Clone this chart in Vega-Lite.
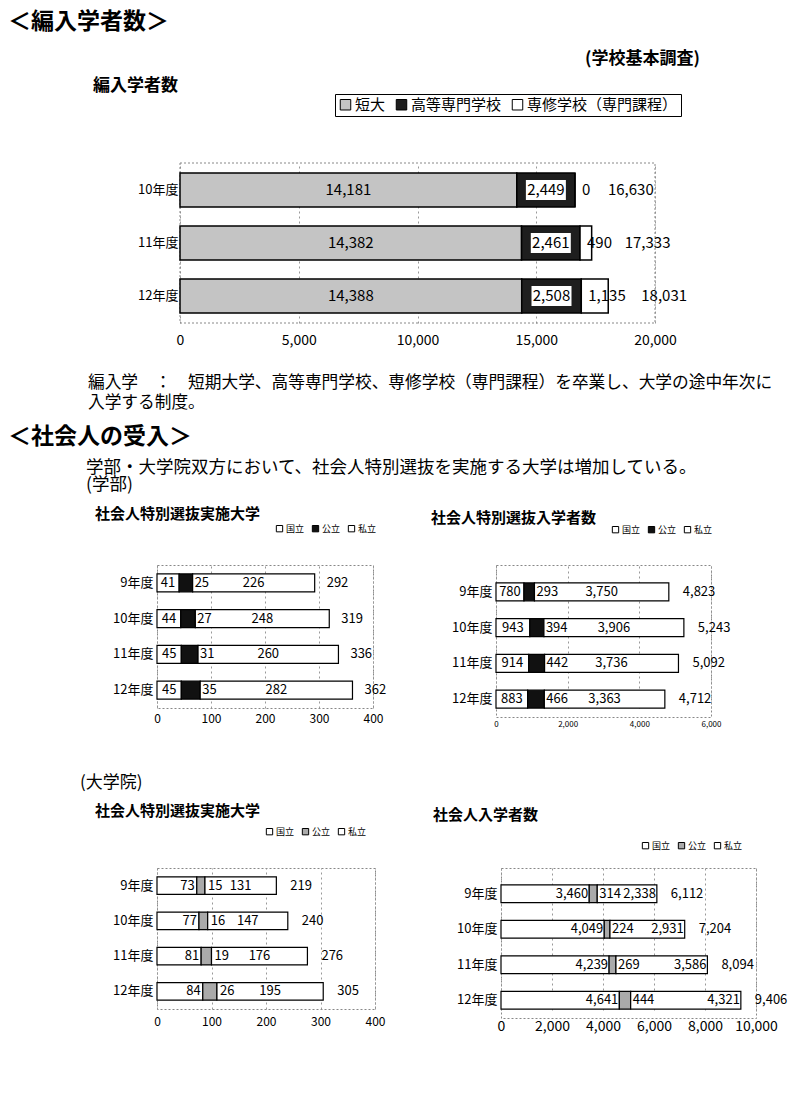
{
  "$schema": "https://vega.github.io/schema/vega-lite/v6.json",
  "background": "white",
  "padding": {"left": 8, "top": 10, "right": 6, "bottom": 6},
  "config": {
    "font": "Noto Sans CJK JP",
    "view": {"stroke": "#888", "strokeDash": [2, 2], "strokeWidth": 1},
    "axis": {"domain": false, "ticks": false, "labelColor": "black", "grid": false, "title": null},
    "axisX": {"grid": true, "gridColor": "#999", "gridDash": [2, 3], "labelFlush": false, "labelOverlap": false},
    "title": {"color": "black", "subtitleColor": "black", "fontWeight": "bold", "anchor": "start", "frame": "group"},
    "legend": {"labelColor": "black", "symbolType": "square", "symbolStrokeColor": "black", "symbolStrokeWidth": 1, "direction": "horizontal", "orient": "none"},
    "text": {"color": "black"}
  },
  "datasets": {
    "hennyu": [
      {"year": "10年度", "type": "短大", "k": 1, "value": 14181},
      {"year": "10年度", "type": "高等専門学校", "k": 2, "value": 2449},
      {"year": "10年度", "type": "専修学校（専門課程）", "k": 3, "value": 0},
      {"year": "11年度", "type": "短大", "k": 1, "value": 14382},
      {"year": "11年度", "type": "高等専門学校", "k": 2, "value": 2461},
      {"year": "11年度", "type": "専修学校（専門課程）", "k": 3, "value": 490},
      {"year": "12年度", "type": "短大", "k": 1, "value": 14388},
      {"year": "12年度", "type": "高等専門学校", "k": 2, "value": 2508},
      {"year": "12年度", "type": "専修学校（専門課程）", "k": 3, "value": 1135}
    ],
    "gu": [
      {"year": "9年度", "type": "国立", "k": 1, "value": 41},
      {"year": "9年度", "type": "公立", "k": 2, "value": 25},
      {"year": "9年度", "type": "私立", "k": 3, "value": 226},
      {"year": "10年度", "type": "国立", "k": 1, "value": 44},
      {"year": "10年度", "type": "公立", "k": 2, "value": 27},
      {"year": "10年度", "type": "私立", "k": 3, "value": 248},
      {"year": "11年度", "type": "国立", "k": 1, "value": 45},
      {"year": "11年度", "type": "公立", "k": 2, "value": 31},
      {"year": "11年度", "type": "私立", "k": 3, "value": 260},
      {"year": "12年度", "type": "国立", "k": 1, "value": 45},
      {"year": "12年度", "type": "公立", "k": 2, "value": 35},
      {"year": "12年度", "type": "私立", "k": 3, "value": 282}
    ],
    "ge": [
      {"year": "9年度", "type": "国立", "k": 1, "value": 780},
      {"year": "9年度", "type": "公立", "k": 2, "value": 293},
      {"year": "9年度", "type": "私立", "k": 3, "value": 3750},
      {"year": "10年度", "type": "国立", "k": 1, "value": 943},
      {"year": "10年度", "type": "公立", "k": 2, "value": 394},
      {"year": "10年度", "type": "私立", "k": 3, "value": 3906},
      {"year": "11年度", "type": "国立", "k": 1, "value": 914},
      {"year": "11年度", "type": "公立", "k": 2, "value": 442},
      {"year": "11年度", "type": "私立", "k": 3, "value": 3736},
      {"year": "12年度", "type": "国立", "k": 1, "value": 883},
      {"year": "12年度", "type": "公立", "k": 2, "value": 466},
      {"year": "12年度", "type": "私立", "k": 3, "value": 3363}
    ],
    "iu": [
      {"year": "9年度", "type": "国立", "k": 1, "value": 73},
      {"year": "9年度", "type": "公立", "k": 2, "value": 15},
      {"year": "9年度", "type": "私立", "k": 3, "value": 131},
      {"year": "10年度", "type": "国立", "k": 1, "value": 77},
      {"year": "10年度", "type": "公立", "k": 2, "value": 16},
      {"year": "10年度", "type": "私立", "k": 3, "value": 147},
      {"year": "11年度", "type": "国立", "k": 1, "value": 81},
      {"year": "11年度", "type": "公立", "k": 2, "value": 19},
      {"year": "11年度", "type": "私立", "k": 3, "value": 176},
      {"year": "12年度", "type": "国立", "k": 1, "value": 84},
      {"year": "12年度", "type": "公立", "k": 2, "value": 26},
      {"year": "12年度", "type": "私立", "k": 3, "value": 195}
    ],
    "ie": [
      {"year": "9年度", "type": "国立", "k": 1, "value": 3460},
      {"year": "9年度", "type": "公立", "k": 2, "value": 314},
      {"year": "9年度", "type": "私立", "k": 3, "value": 2338},
      {"year": "10年度", "type": "国立", "k": 1, "value": 4049},
      {"year": "10年度", "type": "公立", "k": 2, "value": 224},
      {"year": "10年度", "type": "私立", "k": 3, "value": 2931},
      {"year": "11年度", "type": "国立", "k": 1, "value": 4239},
      {"year": "11年度", "type": "公立", "k": 2, "value": 269},
      {"year": "11年度", "type": "私立", "k": 3, "value": 3586},
      {"year": "12年度", "type": "国立", "k": 1, "value": 4641},
      {"year": "12年度", "type": "公立", "k": 2, "value": 444},
      {"year": "12年度", "type": "私立", "k": 3, "value": 4321}
    ]
  },
  "title": {"text": "＜編入学者数＞", "fontSize": 23, "dx": -149, "offset": 16},
  "spacing": 28,
  "resolve": {"scale": {"color": "independent"}, "legend": {"color": "independent"}},
  "vconcat": [
    {
      "title": {"text": "(学校基本調査)", "fontSize": 17, "dx": 428, "offset": 9},
      "resolve": {"scale": {"color": "independent"}, "legend": {"color": "independent"}},
      "vconcat": [
        {
          "width": 498,
          "height": 160,
          "view": {"stroke": null},
          "data": {"name": "hennyu"},
          "title": {"text": "編入学者数", "fontSize": 17, "dx": -64, "offset": -1},
          "transform": [
            {"stack": "value", "groupby": ["year"], "sort": [{"field": "k"}], "as": ["x0", "x1"]},
            {"calculate": "(datum.x0 + datum.x1) / 2", "as": "mid"}
          ],
          "layer": [
            {
              "transform": [{"filter": "datum.k == 1 && datum.year == '10年度'"}],
              "mark": {"type": "rect", "fill": "transparent", "stroke": "#888", "strokeDash": [2, 2], "strokeWidth": 1},
              "encoding": {
                "x": {"datum": 0, "type": "quantitative"},
                "x2": {"datum": 20000}
              }
            },
            {
              "mark": {"type": "bar", "stroke": "black", "strokeWidth": 1.5},
              "encoding": {
                "y": {"field": "year", "type": "nominal", "sort": ["10年度", "11年度", "12年度"], "scale": {"paddingInner": 0.36, "paddingOuter": 0.19}, "axis": {"labelFontSize": 13, "labelPadding": 3, "offset": -24}},
                "x": {"field": "x0", "type": "quantitative", "scale": {"domain": [0, 20000], "range": [23, 498], "nice": false}, "axis": {"values": [0, 5000, 10000, 15000, 20000], "format": ",d", "labelFontSize": 14, "labelPadding": 10}},
                "x2": {"field": "x1"},
                "color": {"field": "type", "type": "nominal", "scale": {"domain": ["短大", "高等専門学校", "専修学校（専門課程）"], "range": ["#c4c4c4", "#1e1e1e", "white"]}, "legend": {"title": null, "legendX": 178, "legendY": -69, "labelFontSize": 15, "symbolSize": 110, "strokeColor": "black", "padding": 3, "columnPadding": 8, "labelOffset": 2}}
              }
            },
            {
              "transform": [{"filter": "datum.k == 2"}],
              "mark": {"type": "tick", "color": "white", "opacity": 1, "thickness": 40, "size": 20},
              "encoding": {
                "y": {"field": "year", "type": "nominal", "sort": ["10年度", "11年度", "12年度"]},
                "x": {"field": "mid", "type": "quantitative"}
              }
            },
            {
              "transform": [{"filter": "datum.k != 3"}],
              "mark": {"type": "text", "fontSize": 15, "baseline": "middle"},
              "encoding": {
                "y": {"field": "year", "type": "nominal", "sort": ["10年度", "11年度", "12年度"]},
                "x": {"field": "mid", "type": "quantitative"},
                "text": {"field": "value", "type": "quantitative", "format": ",d"}
              }
            },
            {
              "transform": [{"filter": "datum.k == 3"}],
              "mark": {"type": "text", "fontSize": 15, "baseline": "middle", "align": "left", "dx": 7},
              "encoding": {
                "y": {"field": "year", "type": "nominal", "sort": ["10年度", "11年度", "12年度"]},
                "x": {"field": "x0", "type": "quantitative"},
                "text": {"field": "value", "type": "quantitative", "format": ",d"}
              }
            },
            {
              "transform": [{"aggregate": [{"op": "sum", "field": "value", "as": "total"}], "groupby": ["year"]}],
              "mark": {"type": "text", "fontSize": 15, "baseline": "middle", "align": "left", "dx": 33},
              "encoding": {
                "y": {"field": "year", "type": "nominal", "sort": ["10年度", "11年度", "12年度"]},
                "x": {"field": "total", "type": "quantitative"},
                "text": {"field": "total", "type": "quantitative", "format": ",d"}
              }
            }
          ]
        }
      ]
    },
    {
      "title": {"text": ["編入学　：　短期大学、高等専門学校、専修学校（専門課程）を卒業し、大学の途中年次に", "　　　　　　入学する制度。"], "fontSize": 16.7, "fontWeight": "normal", "lineHeight": 20, "dx": -69, "offset": 14},
      "resolve": {"scale": {"color": "independent"}, "legend": {"color": "independent"}},
      "vconcat": [
        {
          "title": {"text": "＜社会人の受入＞", "fontSize": 23, "dx": -149, "offset": 10},
          "spacing": 44,
          "resolve": {"scale": {"color": "independent"}, "legend": {"color": "independent"}},
          "vconcat": [
            {
              "title": {"text": ["学部・大学院双方において、社会人特別選抜を実施する大学は増加している。", "(学部)"], "fontSize": 17.5, "fontWeight": "normal", "lineHeight": 17, "dx": -71, "offset": 13},
              "resolve": {"scale": {"color": "independent"}, "legend": {"color": "independent"}},
              "vconcat": [
                {
                  "spacing": 43,
                  "resolve": {"scale": {"color": "independent"}, "legend": {"color": "independent"}},
                  "hconcat": [
                    {
                      "width": 216,
                      "height": 143,
                      "data": {"name": "gu"},
                      "title": {"text": "社会人特別選抜実施大学", "fontSize": 15, "dx": -62, "offset": 2},
                      "transform": [
                        {"stack": "value", "groupby": ["year"], "sort": [{"field": "k"}], "as": ["x0", "x1"]},
                        {"calculate": "(datum.x0 + datum.x1) / 2", "as": "mid"}
                      ],
                      "encoding": {
                        "y": {"field": "year", "type": "nominal", "sort": ["9年度", "10年度", "11年度", "12年度"], "scale": {"paddingInner": 0.5, "paddingOuter": 0.25}, "axis": {"labelFontSize": 13, "labelPadding": 4}}
                      },
                      "layer": [
                        {
                          "mark": {"type": "bar", "stroke": "black", "strokeWidth": 1.2},
                          "encoding": {
                            "x": {"field": "x0", "type": "quantitative", "scale": {"domain": [0, 400], "nice": false}, "axis": {"values": [0, 100, 200, 300, 400], "labelFontSize": 12, "labelPadding": 5}},
                            "x2": {"field": "x1"},
                            "color": {"field": "type", "type": "nominal", "scale": {"domain": ["国立", "公立", "私立"], "range": ["white", "#111", "white"]}, "legend": {"title": null, "legendX": 118, "legendY": -41, "labelFontSize": 9, "symbolSize": 40, "columnPadding": 5, "labelOffset": 2}}
                          }
                        },
                        {
                          "transform": [{"filter": "datum.k != 2"}],
                          "mark": {"type": "text", "fontSize": 13, "baseline": "middle"},
                          "encoding": {"x": {"field": "mid", "type": "quantitative"}, "text": {"field": "value", "type": "quantitative", "format": ",d"}}
                        },
                        {
                          "transform": [{"filter": "datum.k == 2"}],
                          "mark": {"type": "text", "fontSize": 13, "baseline": "middle", "align": "left", "dx": 2},
                          "encoding": {"x": {"field": "x1", "type": "quantitative"}, "text": {"field": "value", "type": "quantitative", "format": ",d"}}
                        },
                        {
                          "transform": [{"aggregate": [{"op": "sum", "field": "value", "as": "total"}], "groupby": ["year"]}],
                          "mark": {"type": "text", "fontSize": 13, "baseline": "middle", "align": "left", "dx": 12},
                          "encoding": {"x": {"field": "total", "type": "quantitative"}, "text": {"field": "total", "type": "quantitative", "format": ",d"}}
                        }
                      ]
                    },
                    {
                      "width": 215,
                      "height": 152,
                      "data": {"name": "ge"},
                      "title": {"text": "社会人特別選抜入学者数", "fontSize": 15, "dx": -65, "offset": -1},
                      "transform": [
                        {"stack": "value", "groupby": ["year"], "sort": [{"field": "k"}], "as": ["x0", "x1"]},
                        {"calculate": "(datum.x0 + datum.x1) / 2", "as": "mid"}
                      ],
                      "encoding": {
                        "y": {"field": "year", "type": "nominal", "sort": ["9年度", "10年度", "11年度", "12年度"], "scale": {"range": [9, 152], "paddingInner": 0.5, "paddingOuter": 0.25}, "axis": {"labelFontSize": 13, "labelPadding": 4}}
                      },
                      "layer": [
                        {
                          "mark": {"type": "bar", "stroke": "black", "strokeWidth": 1.2},
                          "encoding": {
                            "x": {"field": "x0", "type": "quantitative", "scale": {"domain": [0, 6000], "nice": false}, "axis": {"values": [0, 1000, 2000, 3000, 4000, 5000, 6000], "format": ",d", "labelFontSize": 8, "labelPadding": 3}},
                            "x2": {"field": "x1"},
                            "color": {"field": "type", "type": "nominal", "scale": {"domain": ["国立", "公立", "私立"], "range": ["white", "#111", "white"]}, "legend": {"title": null, "legendX": 115, "legendY": -40, "labelFontSize": 9, "symbolSize": 40, "columnPadding": 5, "labelOffset": 2}}
                          }
                        },
                        {
                          "transform": [{"filter": "datum.k != 2"}],
                          "mark": {"type": "text", "fontSize": 13, "baseline": "middle"},
                          "encoding": {"x": {"field": "mid", "type": "quantitative"}, "text": {"field": "value", "type": "quantitative", "format": ",d"}}
                        },
                        {
                          "transform": [{"filter": "datum.k == 2"}],
                          "mark": {"type": "text", "fontSize": 13, "baseline": "middle", "align": "left", "dx": 2},
                          "encoding": {"x": {"field": "x1", "type": "quantitative"}, "text": {"field": "value", "type": "quantitative", "format": ",d"}}
                        },
                        {
                          "transform": [{"aggregate": [{"op": "sum", "field": "value", "as": "total"}], "groupby": ["year"]}],
                          "mark": {"type": "text", "fontSize": 13, "baseline": "middle", "align": "left", "dx": 14},
                          "encoding": {"x": {"field": "total", "type": "quantitative"}, "text": {"field": "total", "type": "quantitative", "format": ",d"}}
                        }
                      ]
                    }
                  ]
                }
              ]
            },
            {
              "title": {"text": "(大学院)", "fontSize": 17, "fontWeight": "normal", "dx": -77, "offset": 12},
              "spacing": 46,
              "resolve": {"scale": {"color": "independent"}, "legend": {"color": "independent"}},
              "hconcat": [
                {
                  "width": 218,
                  "height": 141,
                  "data": {"name": "iu"},
                  "title": {"text": "社会人特別選抜実施大学", "fontSize": 15, "dx": -62, "offset": 8},
                  "transform": [
                    {"stack": "value", "groupby": ["year"], "sort": [{"field": "k"}], "as": ["x0", "x1"]},
                    {"calculate": "(datum.x0 + datum.x1) / 2", "as": "mid"}
                  ],
                  "encoding": {
                    "y": {"field": "year", "type": "nominal", "sort": ["9年度", "10年度", "11年度", "12年度"], "scale": {"paddingInner": 0.5, "paddingOuter": 0.25}, "axis": {"labelFontSize": 13, "labelPadding": 4}}
                  },
                  "layer": [
                    {
                      "mark": {"type": "bar", "stroke": "black", "strokeWidth": 1.2},
                      "encoding": {
                        "x": {"field": "x0", "type": "quantitative", "scale": {"domain": [0, 400], "nice": false}, "axis": {"values": [0, 100, 200, 300, 400], "labelFontSize": 12, "labelPadding": 7}},
                        "x2": {"field": "x1"},
                        "color": {"field": "type", "type": "nominal", "scale": {"domain": ["国立", "公立", "私立"], "range": ["white", "#aaa", "white"]}, "legend": {"title": null, "legendX": 108, "legendY": -41, "labelFontSize": 9, "symbolSize": 40, "columnPadding": 5, "labelOffset": 2}}
                      }
                    },
                    {
                      "transform": [{"filter": "datum.k == 1"}],
                      "mark": {"type": "text", "fontSize": 13, "baseline": "middle", "align": "right", "dx": -2},
                      "encoding": {"x": {"field": "x1", "type": "quantitative"}, "text": {"field": "value", "type": "quantitative", "format": ",d"}}
                    },
                    {
                      "transform": [{"filter": "datum.k == 2"}],
                      "mark": {"type": "text", "fontSize": 13, "baseline": "middle", "align": "left", "dx": 3},
                      "encoding": {"x": {"field": "x1", "type": "quantitative"}, "text": {"field": "value", "type": "quantitative", "format": ",d"}}
                    },
                    {
                      "transform": [{"filter": "datum.k == 3"}],
                      "mark": {"type": "text", "fontSize": 13, "baseline": "middle"},
                      "encoding": {"x": {"field": "mid", "type": "quantitative"}, "text": {"field": "value", "type": "quantitative", "format": ",d"}}
                    },
                    {
                      "transform": [{"aggregate": [{"op": "sum", "field": "value", "as": "total"}], "groupby": ["year"]}],
                      "mark": {"type": "text", "fontSize": 13, "baseline": "middle", "align": "left", "dx": 14},
                      "encoding": {"x": {"field": "total", "type": "quantitative"}, "text": {"field": "total", "type": "quantitative", "format": ",d"}}
                    }
                  ]
                },
                {
                  "width": 255,
                  "height": 150,
                  "data": {"name": "ie"},
                  "title": {"text": "社会人入学者数", "fontSize": 15, "dx": -68, "offset": 18},
                  "transform": [
                    {"stack": "value", "groupby": ["year"], "sort": [{"field": "k"}], "as": ["x0", "x1"]},
                    {"calculate": "(datum.x0 + datum.x1) / 2", "as": "mid"}
                  ],
                  "encoding": {
                    "y": {"field": "year", "type": "nominal", "sort": ["9年度", "10年度", "11年度", "12年度"], "scale": {"range": [8, 150], "paddingInner": 0.5, "paddingOuter": 0.25}, "axis": {"labelFontSize": 13, "labelPadding": 4}}
                  },
                  "layer": [
                    {
                      "mark": {"type": "bar", "stroke": "black", "strokeWidth": 1.2},
                      "encoding": {
                        "x": {"field": "x0", "type": "quantitative", "scale": {"domain": [0, 10000], "nice": false}, "axis": {"values": [0, 2000, 4000, 6000, 8000, 10000], "format": ",d", "labelFontSize": 14, "labelPadding": 1}},
                        "x2": {"field": "x1"},
                        "color": {"field": "type", "type": "nominal", "scale": {"domain": ["国立", "公立", "私立"], "range": ["white", "#aaa", "white"]}, "legend": {"title": null, "legendX": 140, "legendY": -27, "labelFontSize": 9, "symbolSize": 40, "columnPadding": 5, "labelOffset": 2}}
                      }
                    },
                    {
                      "transform": [{"filter": "datum.k == 1"}],
                      "mark": {"type": "text", "fontSize": 13, "baseline": "middle", "align": "right", "dx": -1},
                      "encoding": {"x": {"field": "x1", "type": "quantitative"}, "text": {"field": "value", "type": "quantitative", "format": ",d"}}
                    },
                    {
                      "transform": [{"filter": "datum.k == 2"}],
                      "mark": {"type": "text", "fontSize": 13, "baseline": "middle", "align": "left", "dx": 2},
                      "encoding": {"x": {"field": "x1", "type": "quantitative"}, "text": {"field": "value", "type": "quantitative", "format": ",d"}}
                    },
                    {
                      "transform": [{"filter": "datum.k == 3"}],
                      "mark": {"type": "text", "fontSize": 13, "baseline": "middle", "align": "right", "dx": -1},
                      "encoding": {"x": {"field": "x1", "type": "quantitative"}, "text": {"field": "value", "type": "quantitative", "format": ",d"}}
                    },
                    {
                      "transform": [{"aggregate": [{"op": "sum", "field": "value", "as": "total"}], "groupby": ["year"]}],
                      "mark": {"type": "text", "fontSize": 13, "baseline": "middle", "align": "left", "dx": 14},
                      "encoding": {"x": {"field": "total", "type": "quantitative"}, "text": {"field": "total", "type": "quantitative", "format": ",d"}}
                    }
                  ]
                }
              ]
            }
          ]
        }
      ]
    }
  ]
}
